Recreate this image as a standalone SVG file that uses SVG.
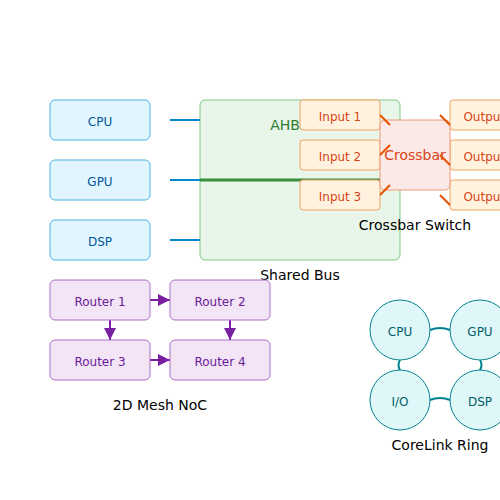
<svg xmlns="http://www.w3.org/2000/svg" width="500" height="500" viewBox="0 0 500 500">
<style>
text{font-family:"DejaVu Sans","Noto Sans",sans-serif;text-anchor:middle;dominant-baseline:central}
.core rect{fill:#e1f5fe;stroke:#4fb3e8;stroke-width:1}
.core text{fill:#01579b;font-size:12px}
.inp rect{fill:#fff3e0;stroke:#f4a261;stroke-width:1}
.inp text{fill:#d84315;font-size:12px}
.rt rect{fill:#f3e5f5;stroke:#ab6fc6;stroke-width:1}
.rt text{fill:#6a1b9a;font-size:12px}
.ring circle{fill:#e0f7fa;stroke:#00838f;stroke-width:1}
.ring text{fill:#006064;font-size:12px}
.core text,.inp text,.rt text,.ring text{transform:translateY(1.5px)}
.title{fill:#000;font-size:14px}
.bl{stroke:#0288d1;stroke-width:2}
.ol{stroke:#e65100;stroke-width:2}
.pl{stroke:#7b1fa2;stroke-width:2;marker-end:url(#ah)}
.tl{stroke:#00838f;stroke-width:2;fill:none}
</style>
<defs>
<marker id="ah" viewBox="0 0 10 10" refX="10" refY="5" markerWidth="6" markerHeight="6" orient="auto" markerUnits="strokeWidth">
<path d="M0,0 L10,5 L0,10 z" fill="#7b1fa2"/>
</marker>
</defs>
<g id="bus">
<rect x="200" y="100" width="200" height="160" rx="5" fill="#e8f5e9" stroke="#81c784"/>
<text x="285" y="125" style="fill:#2e7d32;font-size:14px">AHB</text>
</g>
<g id="connectors">
<line class="bl" x1="170" y1="120" x2="200" y2="120"/>
<line class="bl" x1="170" y1="180" x2="200" y2="180"/>
<line class="bl" x1="170" y1="240" x2="200" y2="240"/>
<line x1="200" y1="180" x2="380" y2="180" stroke="#388e3c" stroke-width="3"/>
<line class="pl" x1="150" y1="300" x2="170" y2="300"/>
<line class="pl" x1="150" y1="360" x2="170" y2="360"/>
<line class="pl" x1="110" y1="320" x2="110" y2="340"/>
<line class="pl" x1="230" y1="320" x2="230" y2="340"/>
<path class="tl" d="M430,330 Q440,326 450,330"/>
<path class="tl" d="M430,400 Q440,396 450,400"/>
<path class="tl" d="M400,360 Q397,365 400,370"/>
<path class="tl" d="M480,360 Q483,365 480,370"/>
</g>
<g id="cpu" class="core"><rect x="50" y="100" width="100" height="40" rx="5"/><text x="100" y="120">CPU</text></g>
<g id="gpu" class="core"><rect x="50" y="160" width="100" height="40" rx="5"/><text x="100" y="180">GPU</text></g>
<g id="dsp" class="core"><rect x="50" y="220" width="100" height="40" rx="5"/><text x="100" y="240">DSP</text></g>
<text class="title" x="300" y="275">Shared Bus</text>
<g id="input1" class="inp"><rect x="300" y="100" width="80" height="30" rx="3"/><text x="340" y="115">Input 1</text></g>
<g id="input2" class="inp"><rect x="300" y="140" width="80" height="30" rx="3"/><text x="340" y="155">Input 2</text></g>
<g id="input3" class="inp"><rect x="300" y="180" width="80" height="30" rx="3"/><text x="340" y="195">Input 3</text></g>
<g id="output1" class="inp"><rect x="450" y="100" width="80" height="30" rx="3"/><text x="490" y="115">Output 1</text></g>
<g id="output2" class="inp"><rect x="450" y="140" width="80" height="30" rx="3"/><text x="490" y="155">Output 2</text></g>
<g id="output3" class="inp"><rect x="450" y="180" width="80" height="30" rx="3"/><text x="490" y="195">Output 3</text></g>
<g id="crossbar"><rect x="380" y="120" width="70" height="70" rx="5" fill="#fbe9e7" stroke="#ef9a7a"/><text x="415" y="155" style="fill:#d84315;font-size:14px">Crossbar</text></g>
<g id="xlines">
<line class="ol" x1="380" y1="115" x2="390" y2="125"/>
<line class="ol" x1="380" y1="155" x2="390" y2="145"/>
<line class="ol" x1="380" y1="195" x2="390" y2="185"/>
<line class="ol" x1="440" y1="115" x2="450" y2="125"/>
<line class="ol" x1="440" y1="155" x2="450" y2="165"/>
<line class="ol" x1="440" y1="195" x2="450" y2="205"/>
</g>
<text class="title" x="415" y="225">Crossbar Switch</text>
<g id="router1" class="rt"><rect x="50" y="280" width="100" height="40" rx="5"/><text x="100" y="300">Router 1</text></g>
<g id="router2" class="rt"><rect x="170" y="280" width="100" height="40" rx="5"/><text x="220" y="300">Router 2</text></g>
<g id="router3" class="rt"><rect x="50" y="340" width="100" height="40" rx="5"/><text x="100" y="360">Router 3</text></g>
<g id="router4" class="rt"><rect x="170" y="340" width="100" height="40" rx="5"/><text x="220" y="360">Router 4</text></g>
<text class="title" x="160" y="405">2D Mesh NoC</text>
<g id="rcpu" class="ring"><circle cx="400" cy="330" r="30"/><text x="400" y="330">CPU</text></g>
<g id="rgpu" class="ring"><circle cx="480" cy="330" r="30"/><text x="480" y="330">GPU</text></g>
<g id="rio" class="ring"><circle cx="400" cy="400" r="30"/><text x="400" y="400">I/O</text></g>
<g id="rdsp" class="ring"><circle cx="480" cy="400" r="30"/><text x="480" y="400">DSP</text></g>
<text class="title" x="440" y="445">CoreLink Ring</text>
</svg>
